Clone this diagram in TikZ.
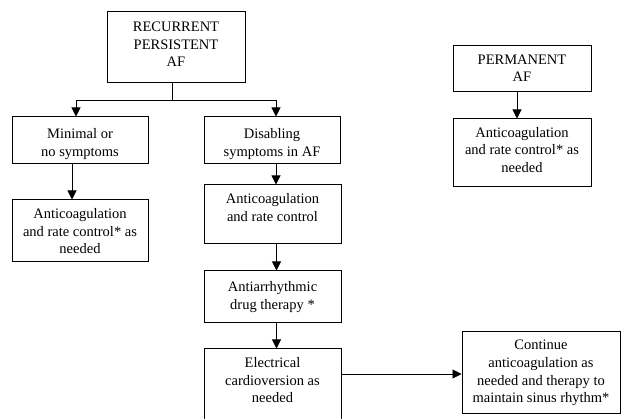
\documentclass[tikz,border=0pt]{standalone}
\usepackage{fontspec}
\setmainfont{Liberation Serif}
\usetikzlibrary{arrows.meta}
\tikzset{
  box/.style={draw, line width=1pt, rectangle, inner sep=0pt},
  txt/.style={anchor=north, inner sep=0pt, align=center, font=\fontsize{14.5}{17.6}\selectfont},
  arr/.style={line width=1pt, -{Triangle[length=9pt,width=9pt]}},
  ln/.style={line width=0.7pt}
}
\begin{document}
\begin{tikzpicture}[x=1pt,y=-1pt]
\useasboundingbox (0,0) rectangle (621,419);
\clip (0,0) rectangle (621,419);
\fill[white] (0,0) rectangle (621,419);
% boxes
\node[box, minimum width=138, minimum height=71] (rec) at (176,47.5) {};
\node[box, minimum width=136, minimum height=47] (min) at (80,140.5) {};
\node[box, minimum width=136, minimum height=47] (dis) at (272,140.5) {};
\node[box, minimum width=136, minimum height=62] (lac) at (80,231) {};
\node[box, minimum width=137, minimum height=59] (dac) at (272.5,214.5) {};
\node[box, minimum width=137, minimum height=52] (aad) at (272.5,297) {};
\node[box, minimum width=137, minimum height=72] (ecv) at (272.5,385) {};
\node[box, minimum width=158, minimum height=81] (con) at (541,372.5) {};
\node[box, minimum width=138, minimum height=46] (per) at (522,69) {};
\node[box, minimum width=138, minimum height=68] (pac) at (522,153) {};
% texts
\node[txt] (trec) at ([yshift=-10.5pt]rec.north) {RECURRENT\\PERSISTENT\\AF};
\node[txt] (tmin) at ([yshift=-12pt]min.north) {Minimal or\\no symptoms};
\node[txt] (tdis) at ([yshift=-12pt]dis.north) {Disabling\\symptoms in AF};
\node[txt] (tlac) at ([yshift=-9pt]lac.north) {Anticoagulation\\and rate control* as\\needed};
\node[txt] (tdac) at ([yshift=-9pt]dac.north) {Anticoagulation\\and rate control};
\node[txt] (taad) at ([yshift=-11pt]aad.north) {Antiarrhythmic\\drug therapy *};
\node[txt] (tecv) at ([yshift=-9pt]ecv.north) {Electrical\\cardioversion as\\needed};
\node[txt] (tcon) at ([yshift=-8.5pt]con.north) {Continue\\anticoagulation as\\needed and therapy to\\maintain sinus rhythm*};
\node[txt] (tper) at ([yshift=-9pt]per.north) {PERMANENT\\AF};
\node[txt] (tpac) at ([yshift=-8.5pt]pac.north) {Anticoagulation\\and rate control* as\\needed};
% connectors
\coordinate (split) at (172,100);
\draw[ln] ([xshift=-4pt]rec.south) -- (split);
\draw[ln] ([xshift=-4pt]min.north |- split) -- ([xshift=4pt]dis.north |- split);
\draw[arr] ([xshift=-4pt]min.north |- split) -- ([xshift=-4pt]min.north);
\draw[arr] ([xshift=4pt]dis.north |- split) -- ([xshift=4pt]dis.north);
\draw[arr] ([xshift=-8pt]min.south) -- ([xshift=-8pt]lac.north);
\draw[arr] ([xshift=4pt]dis.south) -- ([xshift=4pt]dis.south |- dac.north);
\draw[arr] ([xshift=4pt]dac.south) -- ([xshift=4pt]aad.north);
\draw[arr] ([xshift=4pt]aad.south) -- ([xshift=4pt]ecv.north);
\draw[arr] ([xshift=-5pt]per.south) -- ([xshift=-5pt]pac.north);
\draw[ln, -{Triangle[length=9pt,width=9pt]}] (ecv.east |- 0,374) -- (con.west |- 0,374);
\end{tikzpicture}
\end{document}
